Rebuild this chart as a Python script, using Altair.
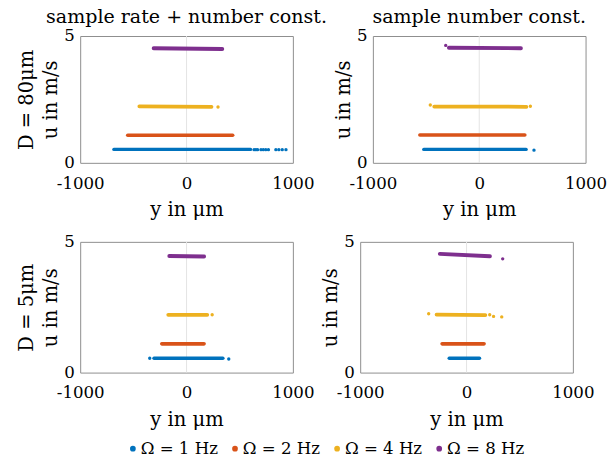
import altair as alt
import pandas as pd

series = ["Ω = 1 Hz", "Ω = 2 Hz", "Ω = 4 Hz", "Ω = 8 Hz"]
colors = ["#0072BD", "#D95319", "#EDB120", "#7E2F8E"]

# ---- dense bands: start / end position y (µm) and velocity u (m/s) at both ends
# panel A: D = 80 µm, sample rate + number const.
a_y0 = [-683, -553, -444, -309]
a_y1 = [602, 434, 235, 336]
a_u0 = [0.53, 1.09, 2.23, 4.52]
a_u1 = [0.53, 1.09, 2.21, 4.49]
# panel B: D = 80 µm, sample number const.
b_y0 = [-521, -558, -423, -285]
b_y1 = [441, 429, 444, 392]
b_u0 = [0.53, 1.10, 2.22, 4.54]
b_u1 = [0.53, 1.10, 2.21, 4.52]
# panel C: D = 5 µm, sample rate + number const.
c_y0 = [-306, -233, -172, -162]
c_y1 = [342, 165, 195, 165]
c_u0 = [0.55, 1.10, 2.21, 4.46]
c_u1 = [0.55, 1.10, 2.21, 4.44]
# panel D: D = 5 µm, sample number const.
d_y0 = [-163, -230, -282, -251]
d_y1 = [122, 165, 177, 220]
d_u0 = [0.55, 1.10, 2.22, 4.54]
d_u1 = [0.55, 1.10, 2.20, 4.45]

# ---- isolated points (series index, y, u)
a_os = [0, 0, 0, 0, 0, 0, 0, 0, 0, 0, 0, 2]
a_oy = [635, 652, 668, 700, 722, 745, 770, 840, 868, 900, 935, 296]
a_ou = [0.52, 0.52, 0.52, 0.52, 0.52, 0.52, 0.52, 0.52, 0.52, 0.52, 0.52, 2.20]
b_os = [3, 2, 2, 0]
b_oy = [-315, -460, 481, 515]
b_ou = [4.63, 2.28, 2.23, 0.50]
c_os = [0, 0, 2]
c_oy = [-346, 397, 241]
c_ou = [0.55, 0.52, 2.21]
d_os = [3, 2, 2, 2, 2]
d_oy = [340, -356, 218, 254, 331]
d_ou = [4.35, 2.25, 2.21, 2.15, 2.13]

FONT = "DejaVu Serif"
FS_LABEL = 17
FS_TITLE = 20
FS_HEAD = 19.5

color_scale = alt.Scale(domain=series, range=colors)


def panel(y0, y1, u0, u1, os_, oy, ou, ytitle, title=None, h=130):
    bands = pd.DataFrame({"series": series, "y0": y0, "y1": y1, "u0": u0, "u1": u1})
    pts = pd.DataFrame({"series": [series[i] for i in os_], "y": oy, "u": ou})
    xs = alt.Scale(domain=[-1000, 1000], nice=False, zero=False)
    ys = alt.Scale(domain=[0, 5], nice=False, zero=False)
    xax = alt.Axis(values=[-1000, 0, 1000], title="y in μm", grid=False, ticks=False,
                   domain=False, labelPadding=13, titlePadding=9, labelFlush=False,
                   labelExpr="datum.value + ''")
    yax = alt.Axis(values=[0, 5], title=ytitle, grid=False, ticks=False, domain=False,
                   labelPadding=6, titlePadding=3, titleLineHeight=25, labelFlush=False)
    zero = alt.Chart(pd.DataFrame({"z": [0]})).mark_rule(color="#e3e3e3", strokeWidth=1).encode(
        x=alt.X("z:Q", scale=xs, axis=xax))
    rules = alt.Chart(bands).mark_rule(strokeCap="round").encode(
        x=alt.X("y0:Q", scale=xs, axis=xax),
        x2="y1:Q",
        y=alt.Y("u0:Q", scale=ys, axis=yax),
        y2="u1:Q",
        color=alt.Color("series:N", scale=color_scale, legend=None),
        size=alt.Size("series:N", scale=alt.Scale(domain=series, range=[3.5, 4, 4.5, 5.5]), legend=None),
    )
    dots = alt.Chart(pts).mark_circle(size=12, opacity=1).encode(
        x=alt.X("y:Q", scale=xs, axis=xax),
        y=alt.Y("u:Q", scale=ys, axis=yax),
        color=alt.Color("series:N", scale=color_scale, legend=None),
    )
    props = dict(width=218, height=h)
    if title:
        props["title"] = alt.TitleParams(title, font=FONT, fontSize=FS_HEAD, fontWeight="normal",
                                         offset=0)
    return alt.layer(zero, rules, dots).properties(**props)


pa = panel(a_y0, a_y1, a_u0, a_u1, a_os, a_oy, a_ou, ["D = 80μm", "u in m/s"], "sample rate + number const.")
pb = panel(b_y0, b_y1, b_u0, b_u1, b_os, b_oy, b_ou, "u in m/s", "sample number const.")
pc = panel(c_y0, c_y1, c_u0, c_u1, c_os, c_oy, c_ou, ["D = 5μm", "u in m/s"], h=134)
pd_ = panel(d_y0, d_y1, d_u0, d_u1, d_os, d_oy, d_ou, "u in m/s", h=134)

# ---- legend row
leg_df = pd.DataFrame({"series": series})
leg_x = alt.X("series:N", scale=alt.Scale(type="point", domain=series, padding=0.516), axis=None)
leg_dots = alt.Chart(leg_df).mark_circle(size=34, opacity=1).encode(
    x=leg_x, y=alt.value(10), color=alt.Color("series:N", scale=color_scale, legend=None))
leg_text = alt.Chart(leg_df).mark_text(align="left", baseline="middle", dx=8, font=FONT,
                                       fontSize=FS_LABEL, color="black").encode(
    x=leg_x, y=alt.value(10), text="series:N")
legend = alt.layer(leg_dots, leg_text).properties(
    width=422, height=20, view=alt.ViewBackground(stroke="transparent"))

grid = alt.vconcat(
    alt.hconcat(pa, pb, spacing=5),
    alt.hconcat(pc, pd_, spacing=5),
    spacing=12,
)

chart = alt.vconcat(grid, legend, spacing=8).properties(
    padding={"left": 8, "top": -7, "right": 0, "bottom": 0}
).configure_view(
    stroke="#8c8c8c", strokeWidth=1
).configure_axis(
    labelFont=FONT, labelFontSize=FS_LABEL, labelColor="black",
    titleFont=FONT, titleFontSize=FS_TITLE, titleFontWeight="normal", titleColor="black",
)

chart.save("out.html", embed_options={"renderer": "svg", "actions": False})
